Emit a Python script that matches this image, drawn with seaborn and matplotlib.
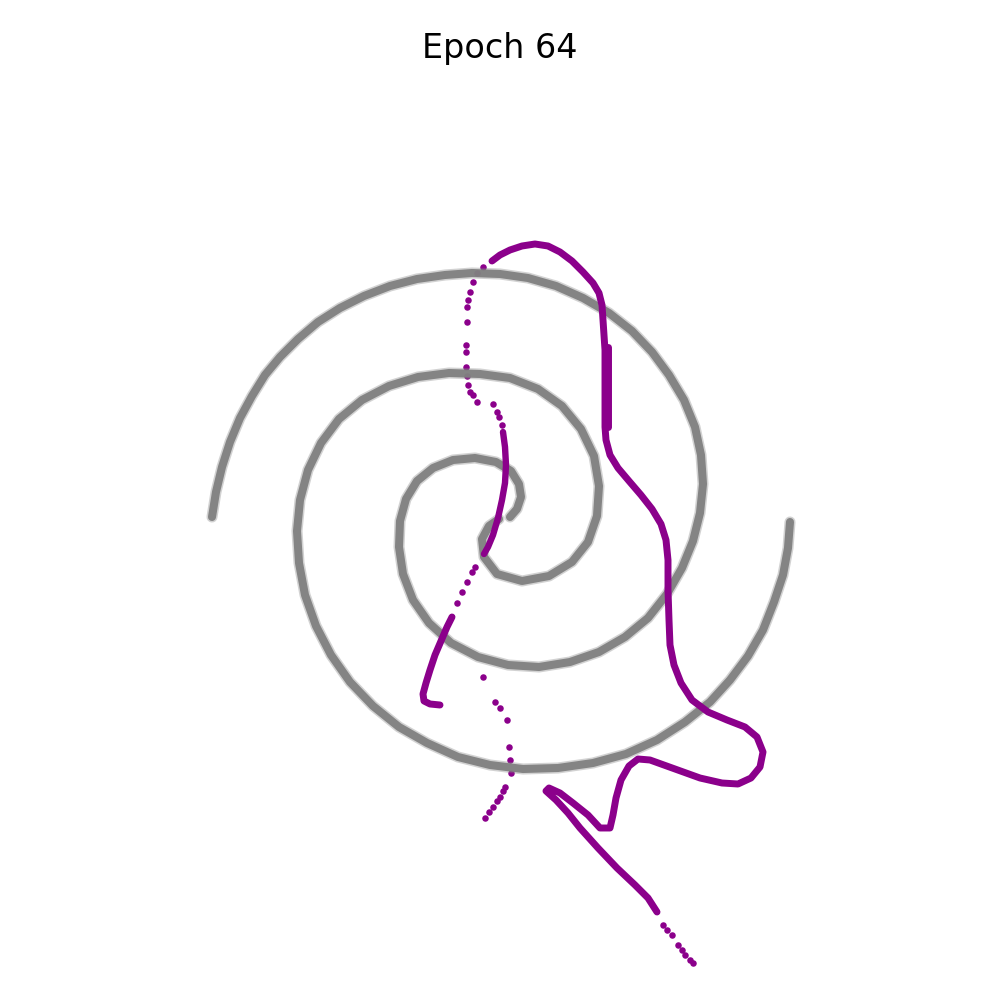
import numpy as np
import pandas as pd
import matplotlib
matplotlib.use("Agg")
import matplotlib.pyplot as plt
import seaborn as sns

# all coordinates (pixel space, y down)
arm1_x = [212, 216, 222, 230, 240, 252, 265, 280, 298, 318, 340, 364, 390, 417, 445, 472, 500, 528, 556,
          583, 609, 632, 652, 669, 684, 695, 701, 703, 700, 693, 682, 667, 648, 625, 599, 570, 539, 508,
          478, 451, 429, 413, 403, 399, 400, 406, 417, 433, 453, 475, 496, 511, 519, 521, 517, 510]
arm1_y = [517, 492, 467, 442, 418, 396, 375, 357, 339, 322, 308, 296, 286, 279, 275, 273, 274, 278, 286,
          298, 313, 331, 352, 375, 400, 427, 455, 484, 513, 541, 568, 594, 618, 637, 652, 662, 667, 665,
          657, 643, 623, 600, 574, 547, 521, 499, 481, 468, 460, 458, 462, 471, 484, 497, 509, 517]

arm2_x = [790, 788, 783, 774, 763, 748, 730, 710, 685, 657, 626, 593, 558, 523, 490, 458, 427, 399, 373,
          350, 331, 316, 305, 299, 297, 300, 308, 321, 339, 362, 389, 418, 449, 480, 510, 538, 562, 581,
          594, 599, 597, 588, 572, 549, 522, 497, 484, 482, 489, 499]
arm2_y = [522, 548, 575, 602, 630, 656, 680, 702, 722, 740, 754, 763, 768, 769, 765, 757, 743, 727, 706,
          682, 655, 626, 595, 563, 531, 500, 470, 443, 419, 400, 386, 377, 373, 374, 378, 389, 406, 429,
          456, 486, 516, 542, 562, 576, 581, 574, 557, 539, 526, 519]

# purple curve, dense parts
main_x = [492, 500, 510, 522, 535, 548, 560, 572, 583, 593, 599, 602, 603, 604, 605, 605, 605, 606, 610,
          618, 629, 641, 652, 661, 666, 668, 668, 669, 670, 674, 681, 692, 708, 727, 745, 757, 763, 760,
          751, 738, 722, 700, 675, 650, 638, 629, 621, 616, 613, 610, 600, 588, 573, 560, 549, 546, 556,
          568, 580, 598, 617, 635, 648, 657]
main_y = [261, 255, 250, 246, 244, 246, 252, 261, 272, 283, 293, 305, 320, 335, 350, 390, 427, 440, 455,
          468, 481, 495, 509, 524, 540, 560, 590, 620, 645, 665, 683, 700, 712, 720, 727, 737, 752, 767,
          778, 784, 783, 778, 769, 760, 759, 766, 780, 798, 815, 828, 828, 815, 803, 793, 788, 791, 800,
          813, 828, 848, 868, 885, 898, 912]
thick_x = [608, 608, 608]
thick_y = [347, 390, 427]
mid_x = [503, 505, 506, 505, 502, 498, 493, 488, 484]
mid_y = [432, 447, 465, 483, 500, 518, 535, 547, 554]
low_x = [452, 447, 441, 435, 430, 426, 423, 424, 430, 440]
low_y = [617, 627, 641, 655, 670, 683, 694, 701, 704, 705]

# purple curve, sparse dots
dots_x = [483, 477, 473, 470, 468, 467, 467, 466, 466, 466, 467, 468, 470, 473, 477, 493, 497, 499, 502,
          475, 472, 467, 462, 457,
          483, 495, 500, 507, 509, 510, 511, 505, 503, 500, 497, 493, 489, 485,
          663, 667, 672, 678, 682, 685, 690, 693]
dots_y = [267, 273, 282, 292, 300, 307, 322, 345, 352, 367, 376, 385, 392, 395, 402, 404, 412, 417, 425,
          567, 572, 582, 592, 603,
          677, 702, 708, 720, 747, 760, 773, 787, 791, 797, 801, 807, 812, 818,
          925, 930, 935, 945, 950, 955, 960, 963]

PURPLE = "#8b008b"
GRAY = "#808080"

sns.set_theme(style="white")
fig = plt.figure(figsize=(10, 10), dpi=100)
ax = fig.add_axes([0, 0, 1, 1])

for xs, ys in [(arm1_x, arm1_y), (arm2_x, arm2_y)]:
    df = pd.DataFrame({"x": xs, "y": ys})
    sns.lineplot(data=df, x="x", y="y", sort=False, estimator=None, ax=ax,
                 color=GRAY, lw=8.0, alpha=0.35, solid_capstyle="round", solid_joinstyle="round")
    sns.lineplot(data=df, x="x", y="y", sort=False, estimator=None, ax=ax,
                 color=GRAY, lw=5.8, alpha=0.95, solid_capstyle="round", solid_joinstyle="round")

for xs, ys, w in [(main_x, main_y, 5.0), (thick_x, thick_y, 5.0), (mid_x, mid_y, 4.6), (low_x, low_y, 5.0)]:
    df = pd.DataFrame({"x": xs, "y": ys})
    sns.lineplot(data=df, x="x", y="y", sort=False, estimator=None, ax=ax,
                 color=PURPLE, lw=w, solid_capstyle="round", solid_joinstyle="round")

sns.scatterplot(x=dots_x, y=dots_y, ax=ax, color=PURPLE, s=22, linewidth=0)

ax.set_xlim(0, 1000)
ax.set_ylim(1000, 0)
ax.set_axis_off()
fig.text(0.5, 1 - 58 / 1000, "Epoch 64", ha="center", va="baseline", fontsize=24, color="black")

fig.savefig("out.png", dpi=100)
